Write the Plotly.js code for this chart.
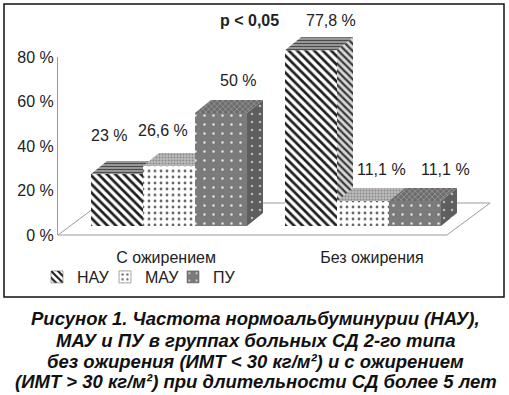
<!DOCTYPE html>
<html>
<head>
<meta charset="utf-8">
<script src="https://cdn.plot.ly/plotly-3.0.1.min.js"></script>
<style>html,body{margin:0;padding:0;background:#fff;}</style>
</head>
<body>
<div id="chart" style="width:509px;height:395px;"></div>
<script>
// ---- data ----
const categories = ['С ожирением', 'Без ожирения'];
const seriesNames = ['НАУ', 'МАУ', 'ПУ'];
const nau = [23, 77.8];
const mau = [26.6, 11.1];
const pu = [50, 11.1];
const yTicks = [0, 20, 40, 60, 80];
const pNote = 'p < 0,05';
const captionLines = [
  'Рисунок 1. Частота нормоальбуминурии (НАУ),',
  'МАУ и ПУ в группах больных СД 2-го типа',
  'без ожирения (ИМТ < 30 кг/м²) и с ожирением',
  '(ИМТ > 30 кг/м²) при длительности СД более 5 лет'
];

// ---- styles / geometry ----
const seriesValues = [nau, mau, pu];
const W = 0.268, DX = 0.0825, DY = 5.75;     // bar width & 3D depth (axis units)
const styles = [
  { front: {shape: '\\', bgcolor: '#ffffff', fgcolor: '#1e1e1e', size: 6, solidity: 0.45},
    side:  {shape: '\\', bgcolor: '#d8d8d8', fgcolor: '#3a3a3a', size: 5, solidity: 0.45},
    top:   {shape: '-',  bgcolor: '#b0b0b0', fgcolor: '#4a4a4a', size: 3, solidity: 0.5} },
  { front: {shape: '.',  bgcolor: '#ffffff', fgcolor: '#6a6a6a', size: 6, solidity: 0.18},
    side:  {shape: '.',  bgcolor: '#a0a0a0', fgcolor: '#e0e0e0', size: 5, solidity: 0.2},
    top:   {shape: '.',  bgcolor: '#bdbdbd', fgcolor: '#8a8a8a', size: 3, solidity: 0.35} },
  { front: {shape: '.',  bgcolor: '#7b7b7b', fgcolor: '#e6e6e6', size: 9, solidity: 0.06},
    side:  {shape: '.',  bgcolor: '#5e5e5e', fgcolor: '#b8b8b8', size: 8, solidity: 0.08},
    top:   {shape: 'x',  bgcolor: '#6c6c6c', fgcolor: '#9a9a9a', size: 4, solidity: 0.35} }
];
// label offsets in px [xshift, yshift] per category / series
const labelShift = [[[-8, 39], [-6, 35], [17, 33]], [[20, 30], [18, 31], [31, 31]]];

const fmt = v => String(v).replace('.', ',') + ' %';

function poly(xs, ys, pat) {
  return {
    type: 'scatter', mode: 'lines', x: xs, y: ys, fill: 'toself',
    fillcolor: pat.bgcolor, fillpattern: pat,
    line: {width: 0, color: pat.bgcolor}, hoverinfo: 'skip', showlegend: false,
    xaxis: 'x', yaxis: 'y'
  };
}

const traces = [];
// floor
const floorFrontY = -3.98, floorBackY = 10.18;
traces.push({
  type: 'scatter', mode: 'lines',
  x: [-0.351, -0.572, 1.433, 1.655, -0.351],
  y: [floorBackY, floorFrontY, floorFrontY, floorBackY, floorBackY],
  line: {color: '#9a9a9a', width: 1}, hoverinfo: 'skip', showlegend: false
});

const annotations = [];
categories.forEach((cat, g) => {
  seriesValues.forEach((vals, k) => {
    const v = vals[g];
    const x0 = g + (k - 1.5) * W, x1 = x0 + W;
    const st = styles[k];
    traces.push(poly([x0, x1, x1, x0, x0], [0, 0, v, v, 0], st.front));
    traces.push(poly([x1, x1 + DX, x1 + DX, x1, x1], [0, DY, v + DY, v, 0], st.side));
    traces.push(poly([x0, x1, x1 + DX, x0 + DX, x0], [v, v, v + DY, v + DY, v], st.top));
    annotations.push({
      x: (x0 + x1) / 2, y: v, xref: 'x', yref: 'y', text: fmt(v), showarrow: false,
      xshift: labelShift[g][k][0], yshift: labelShift[g][k][1],
      font: {size: 16, color: '#222'}
    });
  });
});

// invisible anchor trace so the value-axis subplot is built
traces.push({type: 'scatter', mode: 'markers', x: [0.5], y: [40], xaxis: 'x2', yaxis: 'y2',
             marker: {opacity: 0}, hoverinfo: 'skip', showlegend: false});

// legend entries
seriesNames.forEach((name, k) => {
  traces.push({
    type: 'bar', name: name, x: [null], y: [null],
    marker: {color: styles[k].front.bgcolor, pattern: styles[k].front, line: {width: 0.5, color: '#555'}},
    showlegend: true, hoverinfo: 'skip'
  });
});

annotations.push({
  xref: 'paper', yref: 'paper', x: 249 / 509, y: (395 - 20) / 395, text: '<b>' + pNote + '</b>',
  showarrow: false, font: {size: 16, color: '#222'}, xanchor: 'center', yanchor: 'middle'
});
const capY = [318, 340, 361, 381];
captionLines.forEach((t, i) => {
  annotations.push({
    xref: 'paper', yref: 'paper', x: 256 / 509, y: (395 - capY[i]) / 395,
    text: '<b><i>' + t.replace(/</g, '&lt;').replace(/>/g, '&gt;') + '</i></b>',
    showarrow: false, font: {size: 18.5, color: '#111'}, xanchor: 'center', yanchor: 'middle'
  });
});

const layout = {
  width: 509, height: 395,
  margin: {l: 0, r: 0, t: 0, b: 0},
  paper_bgcolor: '#ffffff', plot_bgcolor: 'rgba(0,0,0,0)',
  font: {family: '"Liberation Sans", Arial, sans-serif', size: 16, color: '#222'},
  showlegend: true,
  legend: {orientation: 'h', x: 37 / 509, xanchor: 'left', y: (395 - 260) / 395, yanchor: 'top',
           font: {size: 16, color: '#222'}, itemwidth: 30, entrywidth: 23, bgcolor: 'rgba(0,0,0,0)',
           traceorder: 'normal'},
  xaxis: {domain: [56 / 509, 502 / 509], range: [-0.5825, 1.7165], tickvals: [-0.015, 1.046],
          ticktext: categories, showline: false, showgrid: false, zeroline: false, ticks: '',
          ticklabelstandoff: 6, tickfont: {size: 16, color: '#222'}},
  yaxis: {domain: [(395 - 240) / 395, (395 - 30) / 395], range: [-6.195, 86.73], visible: false},
  xaxis2: {domain: [58 / 509, 502 / 509], anchor: 'y2', range: [0, 1], visible: false},
  yaxis2: {domain: [(395 - 235) / 395, (395 - 57) / 395], anchor: 'x2', range: [0, 80],
           tickvals: yTicks, ticktext: yTicks.map(t => t + ' %'), showline: true, linecolor: '#9a9a9a',
           linewidth: 1, showgrid: false, zeroline: false, ticks: '', tickfont: {size: 16, color: '#222'}},
  annotations: annotations,
  shapes: [{type: 'rect', xref: 'paper', yref: 'paper', x0: 4 / 509, x1: 504 / 509,
            y0: (395 - 297) / 395, y1: (395 - 4) / 395, line: {color: '#111', width: 1.5}}]
};

Plotly.newPlot('chart', traces, layout, {displayModeBar: false, staticPlot: true});
</script>
</body>
</html>
